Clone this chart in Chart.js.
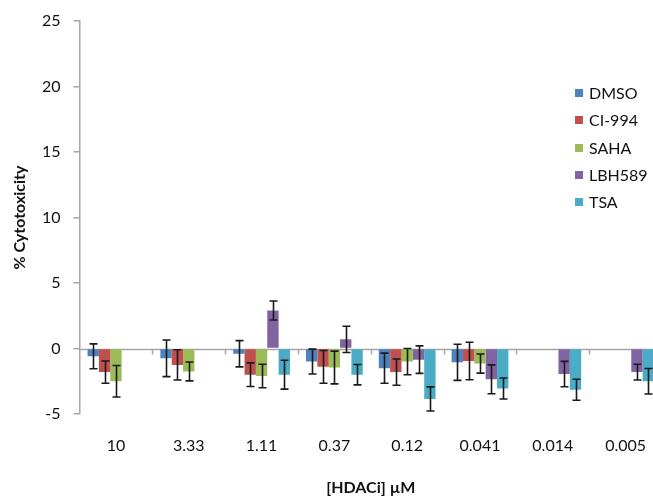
<!DOCTYPE html>
<html><head><meta charset="utf-8">
<script src="https://cdn.jsdelivr.net/npm/chart.js@4"></script>
<style>html,body{margin:0;padding:0;overflow:hidden;background:#fff;width:653px;height:496px}
#wrap{position:relative;width:672px;height:496px}</style></head>
<body><div id="wrap"><canvas id="c" width="672" height="496"></canvas></div>
<script>
const categories = ["10","3.33","1.11","0.37","0.12","0.041","0.014","0.005"];
const seriesNames = ["DMSO","CI-994","SAHA","LBH589","TSA"];
const dmso = [-0.6,-0.75,-0.4,-1.0,-1.5,-1.05,null,null];
const dmsoErr = [0.95,1.4,1.0,0.95,1.15,1.38,null,null];
const ci994 = [-1.8,-1.25,-2.0,-1.4,-1.8,-0.95,null,null];
const ci994Err = [0.85,1.15,0.9,1.25,1.0,1.43,null,null];
const saha = [-2.5,-1.75,-2.1,-1.45,-1.0,-1.15,null,null];
const sahaErr = [1.2,0.72,0.9,1.25,1.0,0.73,null,null];
const lbh589 = [null,null,2.9,0.7,-0.85,-2.35,-1.95,-1.8];
const lbh589Err = [null,null,0.73,1.0,1.05,1.1,0.97,0.6];
const tsa = [null,null,-2.0,-2.0,-3.85,-3.05,-3.15,-2.5];
const tsaErr = [null,null,1.1,0.78,0.92,0.8,0.8,0.97];
const yMin = -5, yMax = 25, yStep = 5;
const colors = ["#4F81BD","#C0504D","#9BBB59","#8064A2","#4BACC6"];

const values = [dmso, ci994, saha, lbh589, tsa];
const errors = [dmsoErr, ci994Err, sahaErr, lbh589Err, tsaErr];
const AXIS = "#a6a6a6";
const FONT = "Lato, 'Open Sans', sans-serif";

const errorBars = {
  id: "errorBars",
  afterDatasetsDraw(chart) {
    const ctx = chart.ctx, y = chart.scales.y;
    ctx.save();
    ctx.strokeStyle = "#1a1a1a";
    ctx.lineWidth = 1.6;
    chart.data.datasets.forEach((ds, i) => {
      const meta = chart.getDatasetMeta(i);
      meta.data.forEach((bar, j) => {
        const v = ds.data[j], e = errors[i][j];
        if (v == null || e == null) return;
        const x = Math.round(bar.x) + 0.5;
        const y1 = y.getPixelForValue(v + e), y2 = y.getPixelForValue(v - e);
        ctx.beginPath();
        ctx.moveTo(x, y1); ctx.lineTo(x, y2);
        ctx.moveTo(x - 4, y1); ctx.lineTo(x + 4, y1);
        ctx.moveTo(x - 4, y2); ctx.lineTo(x + 4, y2);
        ctx.stroke();
      });
    });
    ctx.restore();
  }
};

const zeroAxis = {
  id: "zeroAxis",
  beforeDatasetsDraw(chart) {
    const ctx = chart.ctx, x = chart.scales.x, y = chart.scales.y;
    const y0 = Math.round(y.getPixelForValue(0)) + 0.5;
    ctx.save();
    ctx.strokeStyle = AXIS; ctx.lineWidth = 1.5;
    ctx.beginPath();
    ctx.moveTo(chart.chartArea.left, y0); ctx.lineTo(chart.chartArea.right, y0);
    const w = (x.getPixelForValue(1) - x.getPixelForValue(0));
    for (let i = 1; i < categories.length; i++) {
      const px = Math.round(x.getPixelForValue(i) - w / 2) + 0.5;
      ctx.moveTo(px, y0); ctx.lineTo(px, y0 + 5);
    }
    ctx.stroke();
    ctx.restore();
  }
};

const legendPlugin = {
  id: "customLegend",
  afterDraw(chart) {
    const ctx = chart.ctx;
    const ys = [93, 120, 148, 175, 202];
    ctx.save();
    ctx.font = "16px " + FONT;
    ctx.textBaseline = "middle";
    chart.data.datasets.forEach((ds, i) => {
      const yy = ys[i];
      ctx.fillStyle = ds.backgroundColor;
      ctx.fillRect(575, yy - 4, 8, 8);
      ctx.fillStyle = "#111";
      ctx.fillText(ds.label, 589, yy + 1);
    });
    ctx.restore();
  }
};

new Chart(document.getElementById("c"), {
  type: "bar",
  data: {
    labels: categories,
    datasets: seriesNames.map((n, i) => ({
      label: n, data: values[i], backgroundColor: colors[i], borderWidth: 0
    }))
  },
  options: {
    responsive: false, animation: false, devicePixelRatio: 1,
    categoryPercentage: 0.78, barPercentage: 1,
    layout: { padding: { top: 18, left: 12, right: 10, bottom: 0 } },
    plugins: { legend: { display: false }, tooltip: { enabled: false } },
    scales: {
      x: {
        grid: { display: false, drawTicks: false },
        border: { display: false },
        ticks: { color: "#111", font: { family: FONT, size: 16, lineHeight: 1 }, padding: 24, maxRotation: 0, autoSkip: false },
        title: { display: true, text: "[HDACi] µM", color: "#111",
                 font: { family: FONT, size: 16, weight: "bold", lineHeight: 1 }, padding: { top: 2, bottom: 0 } }
      },
      y: {
        min: yMin, max: yMax,
        ticks: { stepSize: yStep, color: "#111", font: { family: FONT, size: 16, lineHeight: 1 }, padding: 13 },
        grid: { drawOnChartArea: false, drawTicks: true, tickLength: 6, color: AXIS, tickColor: AXIS, lineWidth: 1.5 },
        border: { display: true, color: AXIS, width: 1.5 },
        title: { display: true, text: "% Cytotoxicity", color: "#111",
                 font: { family: FONT, size: 16, weight: "bold", lineHeight: 1 }, padding: { top: 0, bottom: 1 } }
      }
    }
  },
  plugins: [zeroAxis, errorBars, legendPlugin]
});
</script>
</body></html>
